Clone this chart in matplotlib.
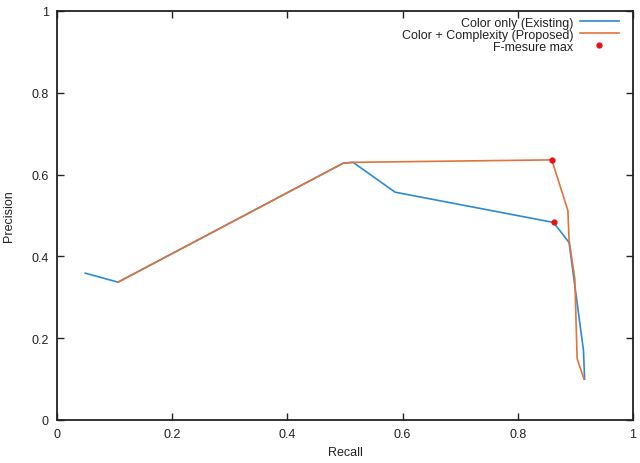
import matplotlib
matplotlib.use('Agg')
import matplotlib.pyplot as plt

# precision / recall curves
recall_existing = [0.049, 0.106, 0.497, 0.514, 0.587, 0.862, 0.889, 0.914, 0.916]
precision_existing = [0.359, 0.337, 0.628, 0.630, 0.557, 0.483, 0.434, 0.170, 0.100]

recall_proposed = [0.106, 0.497, 0.514, 0.859, 0.887, 0.889, 0.899, 0.903, 0.915]
precision_proposed = [0.337, 0.628, 0.630, 0.636, 0.512, 0.440, 0.345, 0.150, 0.100]

fmax_recall = [0.859, 0.862]
fmax_precision = [0.636, 0.483]

ticks = [0, 0.2, 0.4, 0.6, 0.8, 1]
tick_labels = ['0', '0.2', '0.4', '0.6', '0.8', '1']

plt.rcParams['font.family'] = ['Liberation Sans', 'DejaVu Sans']

fig = plt.figure(figsize=(6.4, 4.64), dpi=100)
ax = fig.add_axes([57 / 640, 43 / 464, 576 / 640, 409 / 464])

ax.plot(recall_existing, precision_existing, color='#2a8ad4', lw=1.2,
        label='Color only (Existing)')
ax.plot(recall_proposed, precision_proposed, color='#e0743c', lw=1.2,
        label='Color + Complexity (Proposed)')
ax.plot(fmax_recall, fmax_precision, 'o', color='#ee1111', ms=3.5,
        label='F-mesure max', zorder=5)

ax.set_xlim(0, 1)
ax.set_ylim(0, 1)
ax.set_xticks(ticks)
ax.set_xticklabels(tick_labels)
ax.set_yticks(ticks)
ax.set_yticklabels(tick_labels)
ax.tick_params(direction='in', top=True, right=True, length=5, width=1,
               labelsize=9, colors='#222222', pad=6)
for s in ax.spines.values():
    s.set_linewidth(1.3)
    s.set_color('#222222')

ax.set_xlabel('Recall', fontsize=9, color='#222222', labelpad=4)
ax.set_ylabel('Precision', fontsize=9, color='#222222', labelpad=12)

leg = ax.legend(loc='upper right', bbox_to_anchor=(0.985, 1.0), fontsize=9,
                frameon=False, markerfirst=False, handlelength=3.1,
                handletextpad=0.55, labelspacing=0.0, borderaxespad=0.25,
                borderpad=0.2)
for t in leg.get_texts():
    t.set_ha('right')
    t.set_color('#222222')

fig.savefig('out.png', dpi=100)
